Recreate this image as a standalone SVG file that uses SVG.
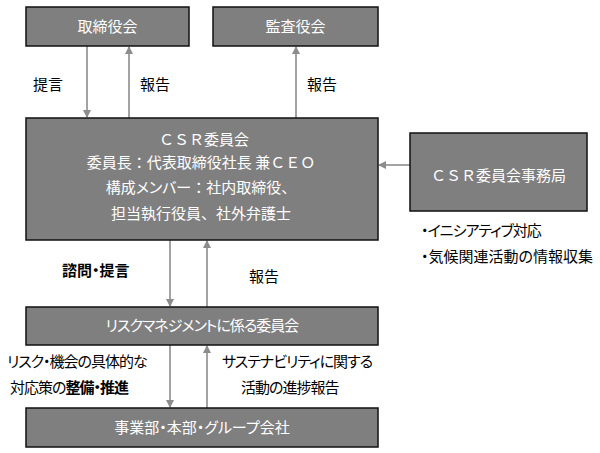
<svg xmlns="http://www.w3.org/2000/svg" width="600" height="453" viewBox="0 0 600 453">
<style>
.box{fill:#7f7f7f;stroke:#111;stroke-width:1.5}
.wt{fill:#fff;font-family:"Noto Sans CJK JP","Noto Sans",sans-serif;font-size:15px;text-anchor:middle}
.bt{fill:#000;font-family:"Noto Sans CJK JP","Noto Sans",sans-serif;font-size:15px}
.p{font-feature-settings:"palt"}
.n{letter-spacing:-1px}
.ln{stroke:#8c8c8c;stroke-width:1.6;fill:none;marker-end:url(#ah)}
</style>
<defs>
<marker id="ah" markerWidth="8" markerHeight="8" refX="7" refY="4" orient="auto" markerUnits="userSpaceOnUse">
<path d="M0,0 L8,4 L0,8 Z" fill="#8c8c8c"/>
</marker>
</defs>
<rect width="600" height="453" fill="#fff"/>
<g id="connectors">
<line class="ln" x1="87" y1="46" x2="87" y2="117"/>
<line class="ln" x1="129" y1="118" x2="129" y2="47"/>
<line class="ln" x1="296" y1="118" x2="296" y2="47"/>
<line class="ln" x1="410" y1="165" x2="379" y2="165"/>
<line class="ln" x1="170" y1="240" x2="170" y2="306"/>
<line class="ln" x1="207" y1="307" x2="207" y2="241"/>
<line class="ln" x1="170" y1="345" x2="170" y2="407"/>
<line class="ln" x1="207" y1="408" x2="207" y2="346"/>
<text class="bt" x="33" y="90">提言</text>
<text class="bt" x="140" y="90">報告</text>
<text class="bt" x="307" y="90">報告</text>
<text class="bt p" x="62" y="276" font-weight="bold">諮問・提言</text>
<text class="bt" x="249" y="282">報告</text>
<text class="bt p n" x="7" y="367">リスク・機会の具体的な</text>
<text class="bt p n" x="10" y="393">対応策の<tspan font-weight="bold">整備・推進</tspan></text>
<text class="bt p n" x="222" y="367">サステナビリティに関する</text>
<text class="bt p n" x="241" y="393">活動の進捗報告</text>
</g>
<g id="board">
<rect class="box" x="26" y="7" width="163" height="39"/>
<text class="wt" x="107.5" y="32">取締役会</text>
</g>
<g id="audit">
<rect class="box" x="213" y="7" width="165" height="39"/>
<text class="wt" x="295.5" y="32">監査役会</text>
</g>
<g id="csr">
<rect class="box" x="26" y="118" width="352" height="122"/>
<text class="wt" x="204" y="145">ＣＳＲ委員会</text>
<text class="wt" x="201" y="168">委員長：代表取締役社長 兼ＣＥＯ</text>
<text class="wt" x="201" y="193">構成<tspan class="p">メンバー</tspan>：社内取締役、</text>
<text class="wt" x="201" y="219">担当執行役員、社外弁護士</text>
</g>
<g id="secretariat">
<rect class="box" x="410" y="133" width="177" height="78"/>
<text class="wt" x="498.5" y="181">ＣＳＲ委員会事務局</text>
<text class="bt p n" x="421" y="236">・イニシアティブ対応</text>
<text class="bt p" x="421" y="262">・気候関連活動の情報収集</text>
</g>
<g id="risk">
<rect class="box" x="26" y="307" width="352" height="38"/>
<text class="wt p n" x="202" y="331">リスクマネジメントに係る委員会</text>
</g>
<g id="business">
<rect class="box" x="26" y="408" width="352" height="39"/>
<text class="wt p" x="202" y="433">事業部・本部・グループ会社</text>
</g>
</svg>
